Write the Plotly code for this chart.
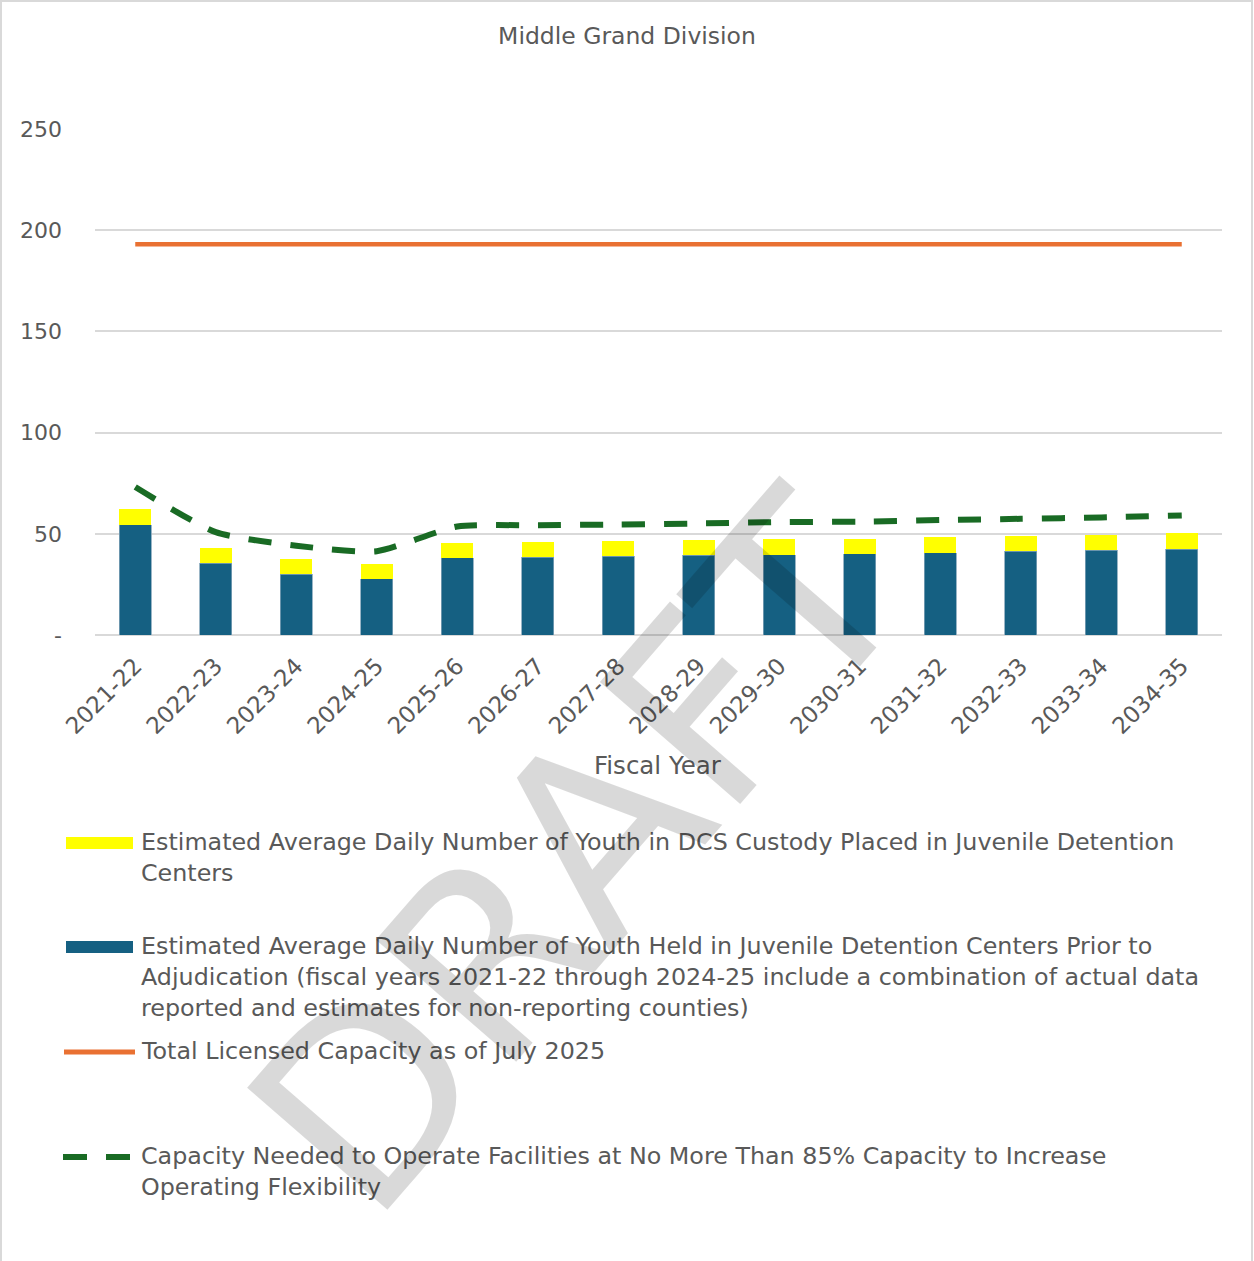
import plotly.graph_objects as go

years = ["2021-22", "2022-23", "2023-24", "2024-25", "2025-26", "2026-27", "2027-28",
         "2028-29", "2029-30", "2030-31", "2031-32", "2032-33", "2033-34", "2034-35"]
pre_adjudication = [54.5, 35.5, 30.0, 27.8, 38.2, 38.4, 38.9, 39.4, 39.7, 40.2, 40.7, 41.3, 41.8, 42.3]
dcs_custody = [7.6, 7.6, 7.5, 7.4, 7.4, 7.7, 7.5, 7.5, 7.7, 7.4, 7.6, 7.5, 7.6, 7.9]
licensed_capacity = [193] * len(years)
capacity_85 = [73.1, 50.8, 44.1, 41.4, 53.6, 54.2, 54.6, 55.1, 55.8, 56.0, 56.8, 57.4, 58.1, 59.1]

W, H = 1254, 1261
L, R, T, B = 95, 1222, 129, 635
FONT = "DejaVu Sans"
GREY = "#595959"


def px(x):
    return (x - L) / (R - L)


def py(y):
    return (B - y) / (B - T)


fig = go.Figure()
fig.add_trace(go.Bar(x=years, y=pre_adjudication, marker=dict(color="#156082", line=dict(color="#7fa3b8", width=0.8)),
                     width=0.4, name="pre"))
fig.add_trace(go.Bar(x=years, y=dcs_custody, marker=dict(color="#FFFF00", line=dict(width=0)),
                     width=0.4, name="dcs"))
fig.add_trace(go.Scatter(x=years, y=licensed_capacity, mode="lines",
                         line=dict(color="#E97132", width=4.5), name="cap"))
fig.add_trace(go.Scatter(x=years, y=capacity_85, mode="lines",
                         line=dict(color="#196B24", width=6, dash="23px,19px", shape="spline", smoothing=0.6),
                         name="85"))

legend = [
    ("rect", "#FFFF00", 843, "Estimated Average Daily Number of Youth in DCS Custody Placed in Juvenile Detention<br>Centers"),
    ("rect", "#156082", 947, "Estimated Average Daily Number of Youth Held in Juvenile Detention Centers Prior to<br>"
                            "Adjudication (fiscal years 2021-22 through 2024-25 include a combination of actual data<br>"
                            "reported and estimates for non-reporting counties)"),
    ("line", "#E97132", 1052, "Total Licensed Capacity as of July 2025"),
    ("dash", "#196B24", 1157, "Capacity Needed to Operate Facilities at No More Than 85% Capacity to Increase<br>"
                             "Operating Flexibility"),
]

shapes = []
annotations = []
for kind, color, yc, text in legend:
    if kind == "rect":
        shapes.append(dict(type="rect", xref="paper", yref="paper", x0=px(66), x1=px(133),
                           y0=py(yc - 6), y1=py(yc + 6), fillcolor=color, line=dict(width=0)))
    elif kind == "line":
        shapes.append(dict(type="line", xref="paper", yref="paper", x0=px(64), x1=px(135),
                           y0=py(yc), y1=py(yc), line=dict(color=color, width=5)))
    else:
        shapes.append(dict(type="line", xref="paper", yref="paper", x0=px(63), x1=px(130),
                           y0=py(yc), y1=py(yc), line=dict(color=color, width=6, dash="24px,19px")))
    annotations.append(dict(xref="paper", yref="paper", x=px(139), y=py(yc - 17), xanchor="left", yanchor="top",
                            align="left", showarrow=False, text=text,
                            font=dict(family=FONT, size=23.8, color=GREY)))

annotations.append(dict(xref="paper", yref="paper", x=px(658), y=py(765), xanchor="center", yanchor="middle",
                        text="Fiscal Year", showarrow=False, font=dict(family=FONT, size=24.5, color=GREY)))

# DRAFT watermark
annotations.append(dict(xref="paper", yref="paper", x=px(578), y=py(855), xanchor="center", yanchor="middle",
                        text="DRAFT", showarrow=False, textangle=-49,
                        font=dict(family="DejaVu Sans", size=255, color="rgba(0,0,0,0.15)")))

# outer border
shapes.append(dict(type="rect", xref="paper", yref="paper", x0=px(1), x1=px(1252), y0=py(1), y1=py(1265),
                   line=dict(color="#d9d9d9", width=2), fillcolor="rgba(0,0,0,0)"))

fig.update_layout(
    width=W, height=H,
    barmode="stack",
    showlegend=False,
    plot_bgcolor="white", paper_bgcolor="white",
    margin=dict(l=L, r=W - R, t=T, b=H - B, autoexpand=False),
    font=dict(family=FONT, size=24, color=GREY),
    title=dict(text="Middle Grand Division", x=0.5, xanchor="center", y=1 - 36 / H, yanchor="middle",
               font=dict(family=FONT, size=23.5, color=GREY)),
    xaxis=dict(tickangle=-45, showgrid=False, showline=False, ticks="", tickfont=dict(size=23, color=GREY),
               ticklabelstandoff=12),
    yaxis=dict(range=[0, 250], tickvals=[0, 50, 100, 150, 200, 250], ticktext=["-", "50", "100", "150", "200", "250"],
               showgrid=True, gridcolor="#d9d9d9", gridwidth=1.5, zeroline=True, zerolinecolor="#d9d9d9",
               zerolinewidth=1.5, showline=False, ticks="", ticklabelstandoff=32, tickfont=dict(size=22, color=GREY)),
    shapes=shapes,
    annotations=annotations,
)

fig.write_html("out.html", config={"displayModeBar": False}, post_script="document.body.style.margin='0';")
